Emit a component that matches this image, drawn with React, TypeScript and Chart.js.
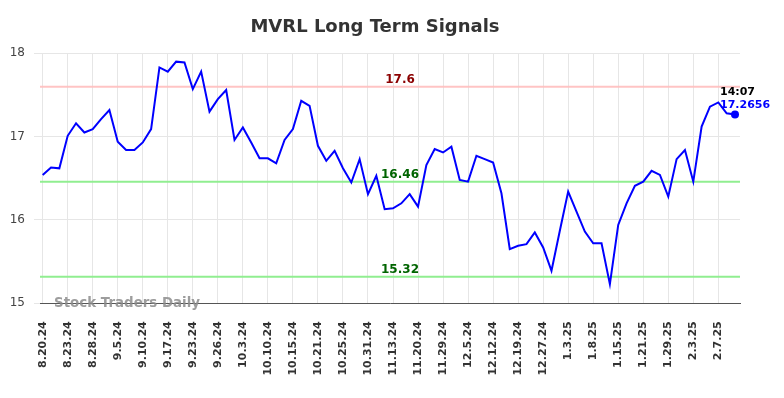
import React, { useEffect, useRef } from "react";
import { Chart, registerables } from "chart.js";

Chart.register(...registerables);

const tickLabels = [
  "8.20.24", "8.23.24", "8.28.24", "9.5.24", "9.10.24", "9.17.24", "9.23.24",
  "9.26.24", "10.3.24", "10.10.24", "10.15.24", "10.21.24", "10.25.24", "10.31.24",
  "11.13.24", "11.20.24", "11.29.24", "12.5.24", "12.12.24", "12.19.24", "12.27.24",
  "1.3.25", "1.8.25", "1.15.25", "1.21.25", "1.29.25", "2.3.25", "2.7.25",
];
const pointsPerTick = 3;

const prices = [
  16.54, 16.63, 16.62, 17.01, 17.16, 17.05, 17.09, 17.21, 17.32, 16.94,
  16.84, 16.84, 16.93, 17.09, 17.83, 17.78, 17.90, 17.89, 17.57, 17.78,
  17.30, 17.45, 17.56, 16.96, 17.11, 16.93, 16.74, 16.74, 16.68, 16.96,
  17.09, 17.43, 17.37, 16.89, 16.71, 16.83, 16.62, 16.45, 16.73, 16.31,
  16.53, 16.13, 16.14, 16.20, 16.31, 16.16, 16.66, 16.85, 16.81, 16.88,
  16.48, 16.46, 16.77, 16.73, 16.69, 16.32, 15.65, 15.69, 15.71, 15.85,
  15.67, 15.39, 15.87, 16.34, 16.10, 15.86, 15.72, 15.72, 15.23, 15.94,
  16.20, 16.41, 16.46, 16.59, 16.54, 16.28, 16.73, 16.84, 16.46, 17.12,
  17.36, 17.41, 17.28, 17.2656,
];

const resistance = [17.6];
const supports = [16.46, 15.32];
const lastTime = "14:07";
const lastPriceText = "17.2656";
const title = "MVRL Long Term Signals";
const watermark = "Stock Traders Daily";
const yMin = 15;
const yMax = 18;

const FONT = "'DejaVu Sans', Verdana, sans-serif";

const overlayPlugin = {
  id: "overlay",
  beforeDatasetsDraw(chart: any) {
    const { ctx, chartArea, scales } = chart;
    const y = scales.y;
    ctx.save();
    ctx.lineWidth = 2;
    resistance.forEach((v) => {
      const py = y.getPixelForValue(v);
      ctx.strokeStyle = "rgba(255,190,190,0.9)";
      ctx.beginPath();
      ctx.moveTo(chartArea.left, py);
      ctx.lineTo(chartArea.right, py);
      ctx.stroke();
    });
    supports.forEach((v) => {
      const py = y.getPixelForValue(v);
      ctx.strokeStyle = "#90ee90";
      ctx.beginPath();
      ctx.moveTo(chartArea.left, py);
      ctx.lineTo(chartArea.right, py);
      ctx.stroke();
    });
    ctx.restore();
  },
  afterDatasetsDraw(chart: any) {
    const { ctx, chartArea, scales } = chart;
    const x = scales.x;
    const y = scales.y;
    ctx.save();
    const cx = 400;
    ctx.textAlign = "center";
    ctx.textBaseline = "alphabetic";
    ctx.font = `bold 12px ${FONT}`;
    resistance.forEach((v) => {
      ctx.fillStyle = "#8b0000";
      ctx.fillText(String(v), cx, y.getPixelForValue(v) - 4);
    });
    supports.forEach((v) => {
      ctx.fillStyle = "#006400";
      ctx.fillText(String(v), cx, y.getPixelForValue(v) - 4);
    });

    // title
    ctx.font = `bold 18px ${FONT}`;
    ctx.fillStyle = "#333333";
    ctx.textAlign = "center";
    ctx.fillText(title, 375, 32);

    // watermark
    ctx.font = `bold 13.4px ${FONT}`;
    ctx.fillStyle = "rgba(140,140,140,0.85)";
    ctx.textAlign = "left";
    ctx.fillText(watermark, 54, chartArea.bottom + 4);

    // last point labels
    const li = prices.length - 1;
    const lx = x.getPixelForValue(li);
    const ly = y.getPixelForValue(prices[li]);
    ctx.font = `bold 11px ${FONT}`;
    ctx.textAlign = "left";
    ctx.fillStyle = "#000000";
    ctx.fillText(lastTime, lx - 15, ly - 20);
    ctx.fillStyle = "#0000ff";
    ctx.fillText(lastPriceText, lx - 15, ly - 7);
    ctx.restore();
  },
};

export default function App() {
  const ref = useRef<HTMLCanvasElement | null>(null);
  useEffect(() => {
    document.body.style.margin = "0";
    const canvas = ref.current!;
    const tickIdx = tickLabels.map((_, k) => k * pointsPerTick);
    const data = prices.map((v, i) => ({ x: i, y: v }));
    const last = prices.length - 1;
    const chart = new Chart(canvas, {
      type: "line",
      data: {
        datasets: [
          {
            data,
            borderColor: "#0000ff",
            backgroundColor: "#0000ff",
            borderWidth: 2,
            tension: 0,
            pointRadius: (c: any) => (c.dataIndex === last ? 4 : 0),
            pointHoverRadius: 0,
            pointBackgroundColor: "#0000ff",
            pointBorderWidth: 0,
          },
        ],
      },
      options: {
        animation: false,
        responsive: false,
        maintainAspectRatio: false,
        layout: { padding: { left: 0, right: 44, top: 53.3, bottom: 0 } },
        plugins: {
          legend: { display: false },
          title: { display: false },
          tooltip: { enabled: false },
        },
        scales: {
          x: {
            type: "linear",
            min: -0.32,
            max: 83.6,
            afterBuildTicks: (s: any) => {
              s.ticks = tickIdx.map((v) => ({ value: v }));
            },
            afterFit: (s: any) => {
              s.height = 398 - 303.3;
            },
            grid: { color: "#e6e6e6", drawTicks: false, lineWidth: 1 },
            border: { display: true, color: "#555555", width: 1 },
            ticks: {
              autoSkip: false,
              maxRotation: 90,
              minRotation: 90,
              padding: 18,
              color: "#333333",
              font: { family: FONT, size: 11, weight: "bold" },
              callback: (v: any) => tickLabels[Math.round(v / pointsPerTick)] ?? "",
            },
          },
          y: {
            min: yMin,
            max: yMax,
            afterFit: (s: any) => {
              s.width = 40;
            },
            grid: { color: "#e6e6e6", drawTicks: true, tickLength: 6, lineWidth: 1 },
            border: { display: false },
            ticks: {
              stepSize: 1,
              padding: 9,
              color: "#444444",
              font: { family: FONT, size: 12 },
            },
          },
        },
      },
      plugins: [overlayPlugin],
    } as any);
    return () => chart.destroy();
  }, []);
  return <canvas ref={ref} width={784} height={398} style={{ display: "block", width: 784, height: 398 }} />;
}
